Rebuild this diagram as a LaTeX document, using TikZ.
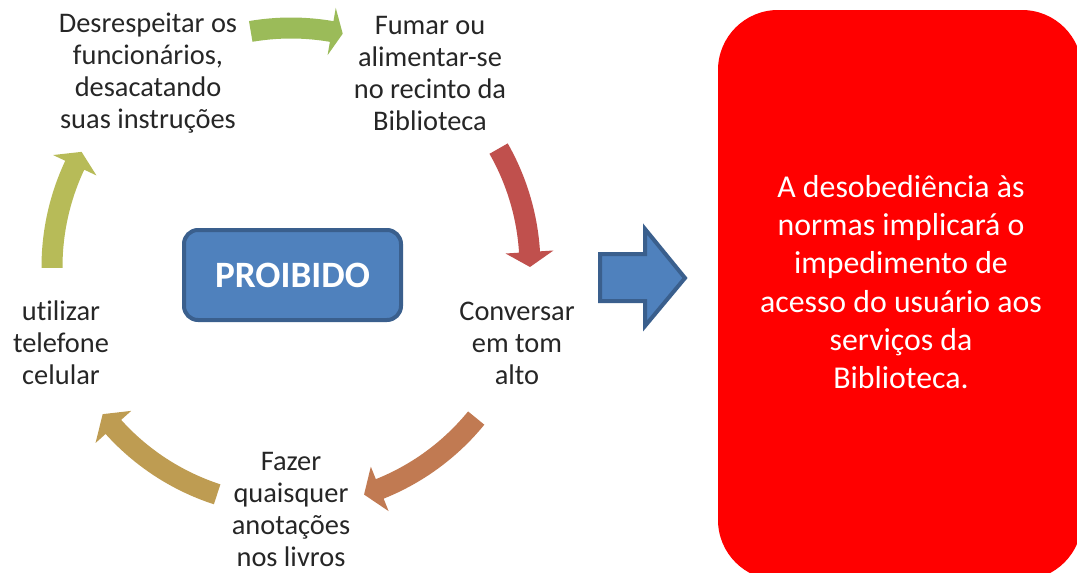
\documentclass[tikz,border=0pt]{standalone}
\usepackage{fontspec}
\setmainfont{Carlito}[Ligatures=NoCommon]
\usetikzlibrary{calc}
\definecolor{cycRed}{HTML}{C0504D}
\definecolor{cycOrange}{HTML}{C17A52}
\definecolor{cycGold}{HTML}{BE9C52}
\definecolor{cycOlive}{HTML}{B7BB58}
\definecolor{cycGreen}{HTML}{9BBB59}
\definecolor{boxBlue}{HTML}{4F81BD}
\definecolor{boxEdge}{HTML}{3A5F8D}
\newcommand{\cyclearrow}[4]{%
  \fill[#1] ($(ctr)+(#2:249.5)$) arc[start angle=#2, end angle=#3, radius=249.5]
    -- ($(ctr)+(#3:263)$) -- ($(ctr)+(#4:239)$) -- ($(ctr)+(#3:215)$)
    -- ($(ctr)+(#3:228.5)$) arc[start angle=#3, end angle=#2, radius=228.5] -- cycle;}
\begin{document}
\begin{tikzpicture}[x=0.5pt, y=-0.5pt, line join=round,
    item/.style={align=center, inner sep=0pt, text=black!85, font=\fontsize{14.2}{16}\selectfont},
    proibbox/.style={draw=boxEdge, line width=2pt, fill=boxBlue, rounded corners=7pt,
      minimum width=108.5pt, minimum height=45pt, text=white, font=\bfseries\fontsize{18.6}{20}\selectfont},
    redbox/.style={fill=red, rounded corners=30pt, minimum width=182pt, minimum height=285pt, inner sep=0pt}]
  \useasboundingbox (0,0) rectangle (1077,573);
  \coordinate (ctr) at (291,267);
  \node[redbox] (caixa) at (900,295) {};
  \node[align=center, inner sep=0pt, text=white, font=\fontsize{15.9}{19.1}\selectfont] (aviso) at (901,282)
    {A desobediência às\\normas implicará o\\impedimento de\\acesso do usuário aos\\serviços da\\Biblioteca.};
  \cyclearrow{cycGreen}{-99.7}{-80.2}{-77.5}
  \cyclearrow{cycRed}{-29.7}{-3.6}{0}
  \cyclearrow{cycOrange}{39.2}{68.2}{72.2}
  \cyclearrow{cycGold}{108}{138}{142}
  \cyclearrow{cycOlive}{-180.2}{-154.8}{-151.2}
  \node[item] (desresp) at (148,73) {Desrespeitar os\\funcionários,\\desacatando\\suas instruções};
  \node[item] (fumar) at (430,73) {Fumar ou\\alimentar-se\\no recinto da\\Biblioteca};
  \node[item] (conversar) at (517,343) {Conversar\\em tom\\alto};
  \node[item] (anotar) at (291,509) {Fazer\\quaisquer\\anotações\\nos livros};
  \node[item] (celular) at (61,343) {utilizar\\telefone\\celular};
  \node[proibbox] (proib) at (292.5,275) {PROIBIDO};
  \draw[draw=boxEdge, line width=2pt, fill=boxBlue, line join=miter]
    (600,254) -- (645,254) -- (645,229) -- (685,278) -- (645,326) -- (645,301) -- (600,301) -- cycle;
\end{tikzpicture}
\end{document}
